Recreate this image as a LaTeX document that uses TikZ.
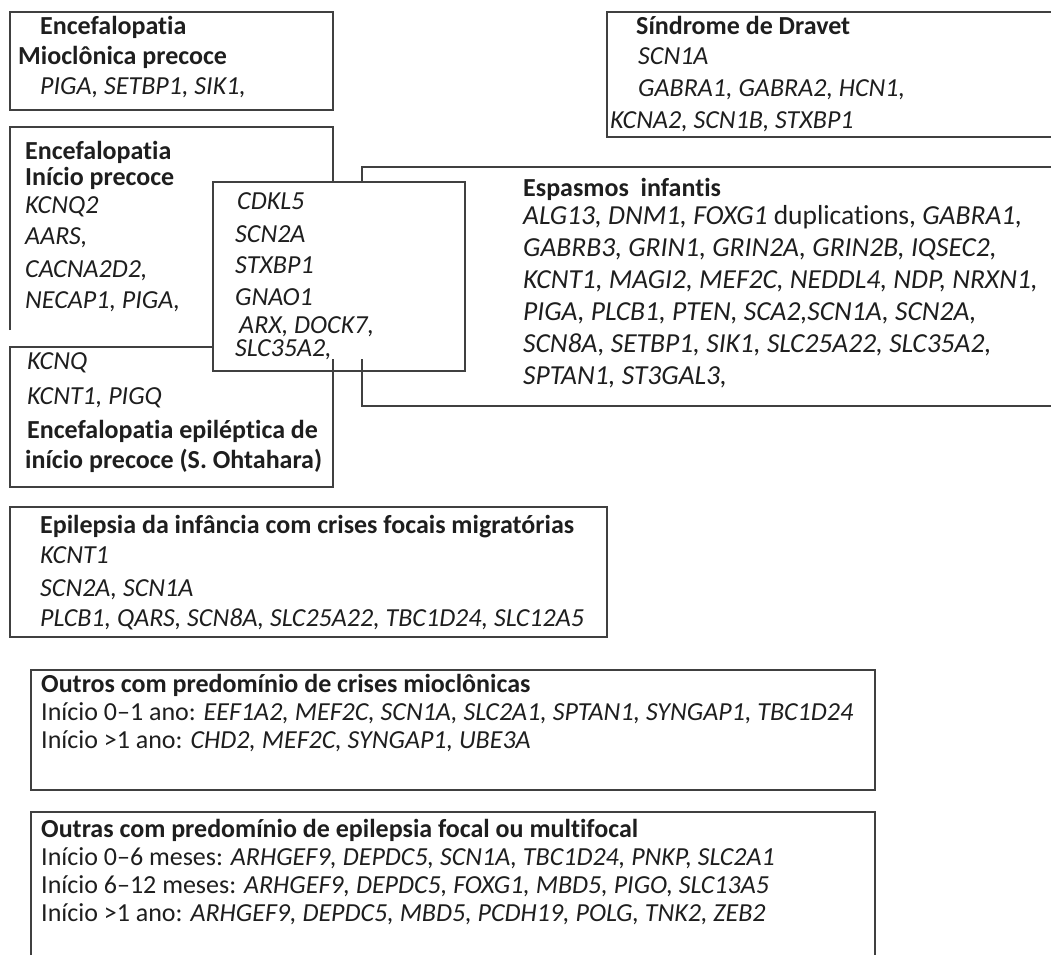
\documentclass[tikz,border=0pt]{standalone}
\usepackage{fontspec}
\setmainfont[Ligatures=CommonOff]{Carlito}
\usepackage{tikz}
\definecolor{framegray}{HTML}{404040}
\definecolor{inkgray}{HTML}{1E1E1E}
\tikzset{
	boxstyle/.style={draw=framegray,line width=1.3pt},
	headstyle/.style={anchor=mid west,inner sep=0pt,text=inkgray,font=\bfseries},
	genestyle/.style={anchor=mid west,inner sep=0pt,text=inkgray,font=\itshape},
	plainstyle/.style={anchor=mid west,inner sep=0pt,text=inkgray},
	widestyle/.style={font=\fontsize{27.5}{32}\selectfont\itshape},
	tightstyle/.style={font=\fontsize{26}{23.5}\selectfont\itshape}
}

\begin{document}
\begin{tikzpicture}[x=1pt,y=-1pt]
		\fontsize{26}{30}\selectfont
		\useasboundingbox (0,0) rectangle (1051,955);
		% frames
		\draw[boxstyle] (10,12) rectangle (333,110);
		\draw[boxstyle] (1051,12) -- (607,12) -- (607,137) -- (1051,137);
		\draw[boxstyle] (10,330) -- (10,127) -- (333,127) -- (333,182);
		\draw[boxstyle,fill=white] (10,347) rectangle (333,487);
		\draw[boxstyle] (1051,167) -- (362,167) -- (362,406) -- (1051,406);
		\fill[white] (213,182) rectangle (465,359);
		\draw[boxstyle] (213,182) rectangle (465,371);
		\draw[boxstyle] (10,507) rectangle (607,637);
		\draw[boxstyle] (31,670) rectangle (875,790);
		\draw[boxstyle] (31,955) -- (31,812) -- (875,812) -- (875,955);
		% mioclonica precoce
		\node[headstyle] (m1) at (40,28) {Encefalopatia};
		\node[headstyle] (m2) at (18,58) {Mioclônica precoce};
		\node[genestyle] (m3) at (40,88) {PIGA, SETBP1, SIK1,};
		% dravet
		\node[headstyle] (d1) at (636,28) {Síndrome de Dravet};
		\node[genestyle] (d2) at (638,58) {SCN1A};
		\node[genestyle] (d3) at (638,90) {GABRA1, GABRA2, HCN1,};
		\node[genestyle] (d4) at (610,122) {KCNA2, SCN1B, STXBP1};
		% inicio precoce
		\node[headstyle] (p1) at (25,153) {Encefalopatia};
		\node[headstyle] (p2) at (25,179) {Início precoce};
		\node[genestyle] (p3) at (25,207) {KCNQ2};
		\node[genestyle] (p4) at (25,238) {AARS,};
		\node[genestyle] (p5) at (25,271) {CACNA2D2,};
		\node[genestyle] (p6) at (25,302) {NECAP1, PIGA,};
		% middle box
		\node[genestyle] (c1) at (237,203) {CDKL5};
		\node[genestyle] (c2) at (235,236) {SCN2A};
		\node[genestyle] (c3) at (235,267) {STXBP1};
		\node[genestyle] (c4) at (235,299) {GNAO1};
		\node[genestyle,tightstyle,anchor=north west,align=left] (c5) at (235,316)
			{\hspace*{4pt}ARX, DOCK7,\\SLC35A2,};
		% ohtahara
		\node[genestyle] (k1) at (27,363) {KCNQ};
		\node[genestyle] (k2) at (27,398) {KCNT1, PIGQ};
		\node[headstyle] (k3) at (27,432) {Encefalopatia epiléptica de};
		\node[headstyle] (k4) at (25,462) {início precoce (S. Ohtahara)};
		% espasmos infantis
		\node[headstyle] (s0) at (523,190) {Espasmos\ \ infantis};
		\node[genestyle,widestyle] (s1) at (523,218) {ALG13, DNM1, FOXG1 \upshape duplications, \itshape GABRA1,};
		\node[genestyle,widestyle] (s2) at (523,250) {GABRB3, GRIN1, GRIN2A, GRIN2B, IQSEC2,};
		\node[genestyle,widestyle] (s3) at (523,282) {KCNT1, MAGI2, MEF2C, NEDDL4, NDP, NRXN1,};
		\node[genestyle,widestyle] (s4) at (523,314) {PIGA, PLCB1, PTEN, SCA2,SCN1A, SCN2A,};
		\node[genestyle,widestyle] (s5) at (523,346) {SCN8A, SETBP1, SIK1, SLC25A22, SLC35A2,};
		\node[genestyle,widestyle] (s6) at (523,378) {SPTAN1, ST3GAL3,};
		% focais migratorias
		\node[headstyle] (f1) at (40,527) {Epilepsia da infância com crises focais migratórias};
		\node[genestyle] (f2) at (40,557) {KCNT1};
		\node[genestyle] (f3) at (40,590) {SCN2A, SCN1A};
		\node[genestyle] (f4) at (40,620) {PLCB1, QARS, SCN8A, SLC25A22, TBC1D24, SLC12A5};
		% mioclonicas
		\node[headstyle] (o1) at (41,686) {Outros com predomínio de crises mioclônicas};
		\node[plainstyle] (o2) at (41,714) {Início 0–1 ano: \itshape EEF1A2, MEF2C, SCN1A, SLC2A1, SPTAN1, SYNGAP1, TBC1D24};
		\node[plainstyle] (o3) at (41,742) {Início >1 ano: \itshape CHD2, MEF2C, SYNGAP1, UBE3A};
		% focal ou multifocal
		\node[headstyle] (q1) at (41,831) {Outras com predomínio de epilepsia focal ou multifocal};
		\node[plainstyle] (q2) at (41,859) {Início 0–6 meses: \itshape ARHGEF9, DEPDC5, SCN1A, TBC1D24, PNKP, SLC2A1};
		\node[plainstyle] (q3) at (41,887) {Início 6–12 meses: \itshape ARHGEF9, DEPDC5, FOXG1, MBD5, PIGO, SLC13A5};
		\node[plainstyle] (q4) at (41,915) {Início >1 ano: \itshape ARHGEF9, DEPDC5, MBD5, PCDH19, POLG, TNK2, ZEB2};
\end{tikzpicture}
\end{document}
